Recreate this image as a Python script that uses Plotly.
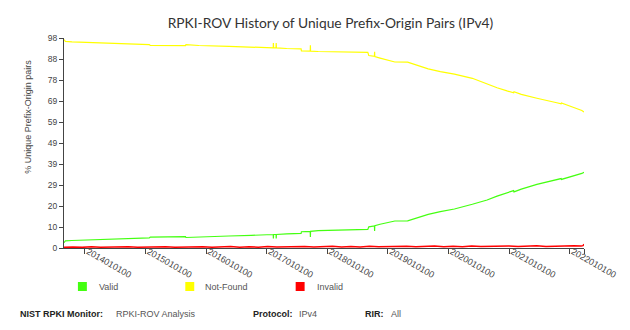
import plotly.graph_objects as go

# ---------------- data ----------------
DATES = [
    "2013-08-28", "2013-09-05", "2013-10-15", "2014-01-01", "2014-04-01", "2014-07-27",
    "2014-10-15", "2015-01-24", "2015-01-30", "2015-05-01", "2015-08-30", "2015-09-02",
    "2015-11-19", "2016-05-18", "2016-10-01", "2016-12-25", "2017-02-09", "2017-02-10",
    "2017-02-11", "2017-02-26", "2017-02-27", "2017-02-28", "2017-05-01", "2017-07-27",
    "2017-07-29", "2017-09-20", "2017-09-21", "2017-09-22", "2017-11-07", "2018-03-01",
    "2018-06-01", "2018-09-02", "2018-09-08", "2018-10-12", "2018-10-13", "2018-10-14",
    "2018-11-15", "2018-12-19", "2019-02-12", "2019-04-30", "2019-06-29", "2019-09-01",
    "2019-11-13", "2020-02-06", "2020-05-24", "2020-08-21", "2020-10-20", "2020-12-19",
    "2021-01-28", "2021-01-30", "2021-03-15", "2021-06-17", "2021-08-20", "2021-10-15",
    "2021-11-10", "2021-11-12", "2022-01-13", "2022-02-20", "2022-03-15", "2022-03-28",
]
VALID = [
    2.5, 3.3, 3.5, 3.7, 3.9, 4.2,
    4.4, 4.7, 5.1, 5.2, 5.3, 4.9,
    5.2, 5.6, 5.9, 6.2, 6.3, 4.4,
    6.3, 6.3, 4.4, 6.3, 6.6, 6.8,
    7.6, 7.8, 5.2, 7.8, 8.1, 8.3,
    8.5, 8.7, 9.9, 10.3, 8.0, 10.4,
    11.1, 11.6, 12.6, 12.7, 14.3, 15.7,
    17.0, 18.2, 20.4, 22.4, 24.2, 25.8,
    26.8, 26.2, 27.5, 29.7, 31.0, 32.1,
    32.4, 32.0, 33.3, 34.2, 34.8, 35.3,
]
NOT_FOUND = [
    97.3, 96.4, 96.2, 96.0, 95.8, 95.5,
    95.3, 94.9, 94.5, 94.4, 94.4, 94.9,
    94.5, 94.1, 93.8, 93.5, 93.4, 95.6,
    93.4, 93.4, 95.6, 93.4, 93.1, 92.9,
    92.0, 91.9, 94.6, 91.9, 91.7, 91.5,
    91.4, 91.3, 89.8, 89.4, 91.6, 89.3,
    88.6, 88.0, 86.8, 86.7, 85.1, 83.6,
    82.3, 81.1, 79.2, 76.4, 74.8, 73.3,
    72.4, 72.9, 71.7, 69.9, 68.6, 67.8,
    67.3, 67.7, 65.9, 64.9, 64.2, 63.5,
]
INVALID_DATES = [
    "2013-08-28", "2013-10-20", "2013-12-15", "2014-02-10", "2014-04-05", "2014-06-01",
    "2014-07-28", "2014-09-20", "2014-11-15", "2015-01-10", "2015-03-08", "2015-05-02",
    "2015-06-28", "2015-08-22", "2015-10-18", "2015-12-12", "2016-02-06", "2016-04-02",
    "2016-05-28", "2016-07-22", "2016-09-16", "2016-11-11", "2017-01-06", "2017-03-03",
    "2017-04-28", "2017-06-22", "2017-08-17", "2017-10-12", "2017-12-07", "2018-02-01",
    "2018-03-28", "2018-05-23", "2018-07-18", "2018-09-12", "2018-11-07", "2019-01-02",
    "2019-02-27", "2019-04-24", "2019-06-19", "2019-08-14", "2019-10-09", "2019-12-04",
    "2020-01-29", "2020-03-25", "2020-05-20", "2020-07-15", "2020-09-09", "2020-11-04",
    "2020-12-30", "2021-02-24", "2021-04-21", "2021-06-16", "2021-08-11", "2021-10-06",
    "2021-12-01", "2022-01-26", "2022-03-10", "2022-03-22", "2022-03-28",
]
INVALID = [
    0.3, 0.5, 0.3, 0.6, 0.4, 0.5,
    0.3, 0.6, 0.4, 0.5, 0.3, 0.6,
    0.4, 0.5, 0.3, 0.6, 0.4, 0.5,
    0.7, 0.4, 0.6, 0.4, 0.7, 0.5,
    0.6, 0.4, 0.7, 0.5, 0.6, 0.8,
    0.5, 0.7, 0.5, 0.8, 0.6, 0.7,
    0.5, 0.8, 0.6, 0.7, 0.9, 0.6,
    0.8, 0.6, 0.9, 0.7, 0.8, 0.6,
    0.9, 0.7, 0.8, 1.0, 0.7, 0.9,
    0.8, 1.0, 0.9, 1.1, 1.8,
]
X_TICK_DATES = ["2014-01-01", "2015-01-01", "2016-01-01", "2017-01-01", "2018-01-01",
                "2019-01-01", "2020-01-01", "2021-01-01", "2022-01-01", "2022-03-28"]
X_TICK_LABELS = ["2014010100", "2015010100", "2016010100", "2017010100", "2018010100",
                 "2019010100", "2020010100", "2021010100", "2022010100", ""]
Y_TICK_VALUES = [0, 9.8, 19.6, 29.4, 39.2, 49, 58.8, 68.6, 78.4, 88.2, 98]
Y_TICK_LABELS = ["0", "10", "20", "29", "39", "49", "59", "69", "78", "88", "98"]
SERIES_NAMES = ["Valid", "Not-Found", "Invalid"]
SERIES_COLORS = ["#44ff11", "#ffff00", "#ff0000"]

# ---------------- layout helpers ----------------
W, H = 630, 330
L, R, T, B = 64, 587, 38, 248


def px(x):
    return (x - L) / (R - L)


def py(y):
    return (B - y) / (B - T)


fig = go.Figure()
fig.add_trace(go.Scatter(x=DATES, y=VALID, mode="lines", name=SERIES_NAMES[0],
                         line=dict(color=SERIES_COLORS[0], width=1.2)))
fig.add_trace(go.Scatter(x=DATES, y=NOT_FOUND, mode="lines", name=SERIES_NAMES[1],
                         line=dict(color=SERIES_COLORS[1], width=1.2)))
fig.add_trace(go.Scatter(x=INVALID_DATES, y=INVALID, mode="lines", name=SERIES_NAMES[2],
                         line=dict(color=SERIES_COLORS[2], width=1.5)))

FONT = "Liberation Sans, Arial, sans-serif"
fig.update_layout(
    width=W, height=H,
    margin=dict(l=L, r=W - R, t=T, b=H - B),
    paper_bgcolor="white", plot_bgcolor="white",
    showlegend=False,
    title=dict(text="RPKI-ROV History of Unique Prefix-Origin Pairs (IPv4)",
               font=dict(family="Lato, sans-serif", size=13.8, color="#333"),
               xref="paper", x=px(332), xanchor="center",
               yref="container", y=1 - 23.5 / H, yanchor="middle"),
    xaxis=dict(type="date", range=["2013-08-28", "2022-03-28"],
               tickmode="array", tickvals=X_TICK_DATES, ticktext=X_TICK_LABELS,
               tickangle=30, ticks="outside", ticklen=5, tickcolor="#444", tickwidth=1,
               ticklabelstandoff=-11, ticklabelshift=3,
               showline=True, linecolor="#444", linewidth=1, showgrid=False, zeroline=False,
               tickfont=dict(family=FONT, size=9, color="#444")),
    yaxis=dict(range=[0, 98], tickmode="array", tickvals=Y_TICK_VALUES, ticktext=Y_TICK_LABELS,
               ticks="outside", ticklen=4, tickcolor="#444", tickwidth=1,
               showline=True, linecolor="#444", linewidth=1, showgrid=False, zeroline=False,
               tickfont=dict(family=FONT, size=8.5, color="#444")),
)

# y axis title
fig.add_annotation(text="% Unique Prefix-Origin pairs", xref="paper", yref="paper",
                   x=px(27), y=py(116.5), xanchor="center", yanchor="middle",
                   textangle=-90, showarrow=False,
                   font=dict(family=FONT, size=9, color="#444"))

# custom legend
legend_pos = [(78, 97), (186, 204), (297, 316)]
for (sx, tx), name, color in zip(legend_pos, SERIES_NAMES, SERIES_COLORS):
    fig.add_shape(type="rect", xref="paper", yref="paper",
                  x0=px(sx), x1=px(sx + 9), y0=py(291), y1=py(282),
                  fillcolor=color, line=dict(width=0))
    fig.add_annotation(text=name, xref="paper", yref="paper", x=px(tx), y=py(287),
                       xanchor="left", yanchor="middle", showarrow=False,
                       font=dict(family=FONT, size=9, color="#555"))

# footer
footer = [
    (18, "<b>NIST RPKI Monitor:</b>", "#222"),
    (114, "RPKI-ROV Analysis", "#555"),
    (252, "<b>Protocol:</b>", "#222"),
    (298, "IPv4", "#555"),
    (365, "<b>RIR:</b>", "#222"),
    (391, "All", "#555"),
]
for fx, text, color in footer:
    fig.add_annotation(text=text, xref="paper", yref="paper", x=px(fx), y=py(313.5),
                       xanchor="left", yanchor="middle", showarrow=False,
                       font=dict(family=FONT, size=9, color=color))

fig.write_html("out.html")
